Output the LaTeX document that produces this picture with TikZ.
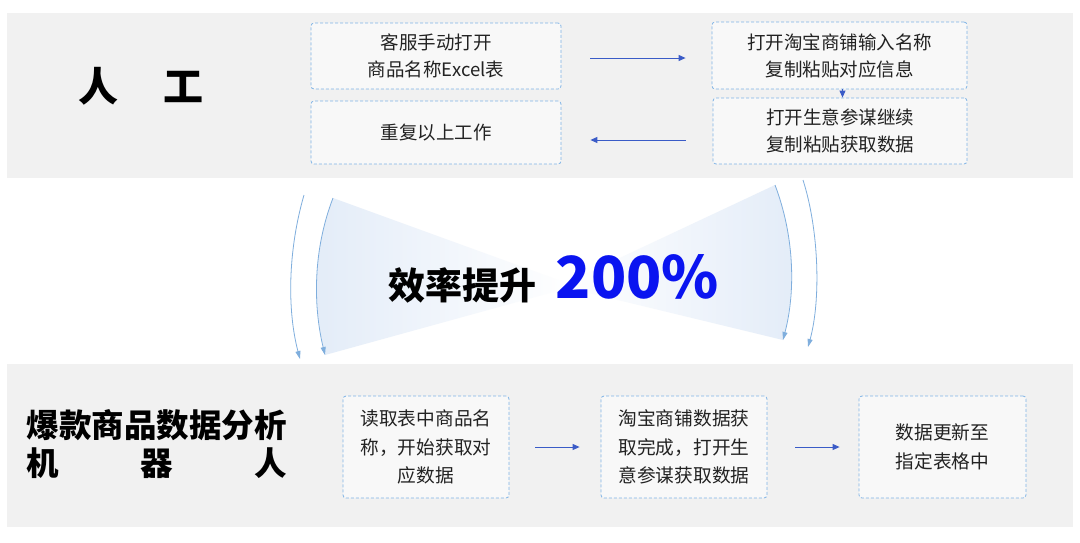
\documentclass[tikz,border=0pt]{standalone}
\usepackage{fontspec}
\setmainfont{Noto Sans CJK SC}
\usetikzlibrary{arrows.meta}
\definecolor{panel}{HTML}{F1F1F1}
\definecolor{boxfill}{HTML}{F8F8F8}
\definecolor{boxline}{HTML}{7FB3E6}
\definecolor{flowblue}{HTML}{3A5BC7}
\definecolor{curveblue}{HTML}{7FAEDD}
\definecolor{wedge}{HTML}{E3ECF8}
\definecolor{bigblue}{HTML}{0A14F0}
\definecolor{txt}{HTML}{222222}
\begin{document}
\begin{tikzpicture}[x=1pt,y=-1pt,
  panelbox/.style={fill=panel, draw=none},
  stepbox/.style={draw=boxline, dash pattern=on 3pt off 2pt, fill=boxfill, rounded corners=3pt, line width=0.8pt, inner sep=0pt, align=center, text=txt, font=\fontsize{18.5}{27}\selectfont},
  lowbox/.style={stepbox, minimum width=166pt, minimum height=102pt, font=\fontsize{18.7}{28.5}\selectfont},
  flow/.style={draw=flowblue, line width=1pt, -{Triangle[length=7pt,width=6pt]}},
  curve/.style={draw=curveblue, line width=0.8pt, -{Triangle[length=8pt,width=5pt]}},
  title/.style={font=\fontsize{40}{44}\selectfont\bfseries, text=black, inner sep=0pt},
]
\useasboundingbox[fill=white] (0,0) rectangle (1080,542);
% panels
\fill[panel] (7,13) rectangle (1073,178);
\fill[panel] (7,364) rectangle (1073,527);

% wedges
\shade[left color=wedge, right color=white] (333,198) .. controls (313,250) and (313,305) .. (325,355) -- (575,286) -- cycle;
\shade[left color=white, right color=wedge] (775,185) .. controls (794,235) and (796,290) .. (783,340) -- (560,286) -- cycle;

% curved arrows
\coordinate (lo1) at (304,195); \coordinate (lo2) at (300,359);
\coordinate (li1) at (333,198); \coordinate (li2) at (325,355);
\coordinate (ri1) at (775,185); \coordinate (ri2) at (783,340);
\coordinate (ro1) at (803,180); \coordinate (ro2) at (808,347);
\draw[curve] (lo1) .. controls (288,250) and (287,310) .. (lo2);
\draw[curve] (li1) .. controls (313,250) and (313,305) .. (li2);
\draw[curve] (ri1) .. controls (794,235) and (796,290) .. (ri2);
\draw[curve] (ro1) .. controls (819,230) and (821,300) .. (ro2);

% titles
\node[title] (rg) at (141,86) {人\hspace{45pt}工};
\node[font=\fontsize{37}{40}\selectfont\bfseries, inner sep=0pt] (xl) at (462,285) {效率提升};
\node[font=\fontsize{58}{60}\selectfont\bfseries, text=bigblue, inner sep=0pt] (pct) at (637.5,277) {200\%};
\node[font=\fontsize{32.5}{38}\selectfont\bfseries, align=left, inner sep=0pt] (robot) at (157,444) {爆款商品数据分析\\\makebox[260pt]{机\hfill 器\hfill 人}};

% top boxes
\node[stepbox, minimum width=250pt, minimum height=66pt] (A) at (436,56) {客服手动打开\\商品名称Excel表};
\node[stepbox, minimum width=255pt, minimum height=67pt] (B) at (839.5,55.5) {打开淘宝商铺输入名称\\复制粘贴对应信息};
\node[stepbox, minimum width=254pt, minimum height=66pt] (C) at (840,131) {打开生意参谋继续\\复制粘贴获取数据};
\node[stepbox, minimum width=250pt, minimum height=63pt] (D) at (436,132.5) {重复以上工作};

\draw[flow, shorten <=29pt, shorten >=26pt] ([yshift=-2pt]A.east) -- ([yshift=-2pt]A.east -| B.west);
\draw[flow] ([xshift=3pt]B.south) -- ([xshift=3pt]B.south |- C.north);
\draw[flow, shorten <=27pt, shorten >=29pt] ([yshift=-9pt]C.west) -- ([yshift=-9pt]C.west -| D.east);

% bottom boxes
\node[lowbox] (E) at (426,447) {读取表中商品名\\称，开始获取对\\应数据};
\node[lowbox] (F) at (684,447) {淘宝商铺数据获\\取完成，打开生\\意参谋获取数据};
\node[lowbox, minimum width=167pt] (G) at (942.5,447) {数据更新至\\指定表格中};

\draw[flow, shorten <=26pt, shorten >=21pt] (E.east) -- (F.west);
\draw[flow, shorten <=28pt, shorten >=19pt] (F.east) -- (G.west);
\end{tikzpicture}
\end{document}
